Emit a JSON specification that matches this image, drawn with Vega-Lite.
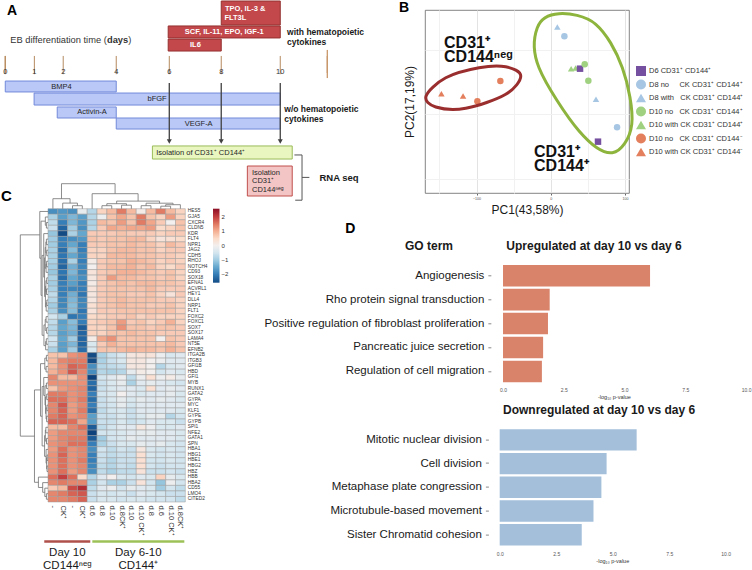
{
"$schema": "https://vega.github.io/schema/vega-lite/v6.json",
"padding": 0,
"background": "white",
"config": {"view": {"stroke": null}, "font": "Liberation Sans"},
"spacing": -118,
"resolve": {"scale": {"color": "independent", "shape": "independent", "fill": "independent", "stroke": "independent"}, "legend": {"color": "independent", "shape": "independent", "fill": "independent", "stroke": "independent"}},
"hconcat": [
{"vconcat": [
{
"width": 332.3, "height": 153,
"layer": [
{"data": {"values": [{"d": -0.06, "t": 4.58, "b": 6.0, "o": 1}, {"d": 11.78, "t": 4.58, "b": 6.0, "o": 2}, {"d": 11.78, "t": 4.08, "b": 6.42, "o": 3}, {"d": 12.18, "t": 5.25, "b": 5.25, "o": 4}]},
 "mark": {"type": "area", "fill": "#f9d3b0", "stroke": "#c8996b", "strokeWidth": 1, "orient": "vertical"},
 "encoding": {"x": {"field": "d", "type": "quantitative", "scale": {"domain": [1.511, 13.728], "nice": false, "zero": false}, "axis": null},
  "y": {"field": "t", "type": "quantitative", "scale": {"domain": [0.75, 13.5], "nice": false, "zero": false, "reverse": true}, "axis": null},
  "y2": {"field": "b"}, "order": {"field": "o"}}},
{"data": {"values": [{"k": "hema", "s": 7.88, "e": 10.05, "t": 0, "b": 2}, {"k": "hema", "s": 5.93, "e": 10.05, "t": 2.08, "b": 3.08}, {"k": "hema", "s": 5.93, "e": 7.88, "t": 3.17, "b": 4.17}, {"k": "gf", "s": -0.06, "e": 4.02, "t": 6.67, "b": 7.58}, {"k": "gf", "s": 1.0, "e": 10.05, "t": 7.67, "b": 8.67}, {"k": "gf", "s": 1.85, "e": 4.02, "t": 8.83, "b": 9.75}, {"k": "gf", "s": 4.02, "e": 10.05, "t": 9.75, "b": 10.67}, {"k": "iso", "s": 5.35, "e": 10.49, "t": 12.08, "b": 13.17}, {"k": "neg", "s": 8.84, "e": 10.49, "t": 13.75, "b": 16.25}]},
 "mark": {"type": "rect", "strokeWidth": 1},
 "encoding": {"x": {"field": "s", "type": "quantitative", "scale": {"domain": [1.511, 13.728], "nice": false, "zero": false}, "axis": null}, "x2": {"field": "e"},
  "y": {"field": "t", "type": "quantitative", "scale": {"domain": [0.75, 13.5], "nice": false, "zero": false, "reverse": true}, "axis": null}, "y2": {"field": "b"},
  "fill": {"field": "k", "type": "nominal", "scale": {"domain": ["hema", "gf", "iso", "neg"], "range": ["#c2484c", "#b9c8f6", "#e9f6c0", "#f3c5c4"]}, "legend": null},
  "stroke": {"field": "k", "type": "nominal", "scale": {"domain": ["hema", "gf", "iso", "neg"], "range": ["#94302f", "#7389da", "#9bbb59", "#c0504d"]}, "legend": null}}},
{"data": {"values": [{"lab": "0", "p": -0.06}, {"lab": "1", "p": 1.01}, {"lab": "2", "p": 2.07}, {"lab": "4", "p": 4.02}, {"lab": "6", "p": 5.97}, {"lab": "8", "p": 7.88}, {"lab": "10", "p": 10.05}]},
 "layer": [
  {"mark": {"type": "rule", "color": "#b58a5f", "strokeWidth": 1},
   "encoding": {"x": {"field": "p", "type": "quantitative", "scale": {"domain": [1.511, 13.728], "nice": false, "zero": false}, "axis": null},
    "y": {"datum": 4.58, "type": "quantitative", "scale": {"domain": [0.75, 13.5], "nice": false, "zero": false, "reverse": true}, "axis": null}, "y2": {"datum": 6.1}}},
  {"mark": {"type": "text", "fontSize": 7.5, "color": "#333", "baseline": "middle"},
   "encoding": {"x": {"field": "p", "type": "quantitative", "scale": {"domain": [1.511, 13.728], "nice": false, "zero": false}, "axis": null},
    "y": {"datum": 5.9, "type": "quantitative", "scale": {"domain": [0.75, 13.5], "nice": false, "zero": false, "reverse": true}, "axis": null}, "text": {"field": "lab"}}}
 ]},
{"data": {"values": [{"p": 5.97}, {"p": 7.88}, {"p": 10.05}]},
 "layer": [
  {"mark": {"type": "rule", "color": "#404040", "strokeWidth": 1.3},
   "encoding": {"x": {"field": "p", "type": "quantitative", "scale": {"domain": [1.511, 13.728], "nice": false, "zero": false}, "axis": null},
    "y": {"datum": 6.83, "type": "quantitative", "scale": {"domain": [0.75, 13.5], "nice": false, "zero": false, "reverse": true}, "axis": null}, "y2": {"datum": 11.6}}},
  {"mark": {"type": "point", "shape": "triangle-down", "filled": true, "color": "#404040", "size": 25, "opacity": 1},
   "encoding": {"x": {"field": "p", "type": "quantitative", "scale": {"domain": [1.511, 13.728], "nice": false, "zero": false}, "axis": null},
    "y": {"datum": 11.71, "type": "quantitative", "scale": {"domain": [0.75, 13.5], "nice": false, "zero": false, "reverse": true}, "axis": null}}}
 ]},
{"data": {"values": [{"x": 10.57, "x2": 10.85, "y": 12.83, "y2": 12.83}, {"x": 10.85, "x2": 10.85, "y": 12.83, "y2": 16.6}, {"x": 10.6, "x2": 10.85, "y": 16.6, "y2": 16.6}, {"x": 10.85, "x2": 11.12, "y": 14.7, "y2": 14.7}]},
 "mark": {"type": "rule", "color": "#555", "strokeWidth": 1},
 "encoding": {"x": {"field": "x", "type": "quantitative", "scale": {"domain": [1.511, 13.728], "nice": false, "zero": false}, "axis": null}, "x2": {"field": "x2"},
  "y": {"field": "y", "type": "quantitative", "scale": {"domain": [0.75, 13.5], "nice": false, "zero": false, "reverse": true}, "axis": null}, "y2": {"field": "y2"}}},
{"data": {"values": [{"t": "BMP4", "d": 2.01, "l": 7.17}, {"t": "bFGF", "d": 5.52, "l": 8.19}, {"t": "Activin-A", "d": 3.13, "l": 9.25}, {"t": "VEGF-A", "d": 7.05, "l": 10.22}]},
 "mark": {"type": "text", "fontSize": 7.5, "color": "#262626", "baseline": "middle", "align": "center"},
 "encoding": {"x": {"field": "d", "type": "quantitative", "scale": {"domain": [1.511, 13.728], "nice": false, "zero": false}, "axis": null},
  "y": {"field": "l", "type": "quantitative", "scale": {"domain": [0.75, 13.5], "nice": false, "zero": false, "reverse": true}, "axis": null}, "text": {"field": "t"}}},
{"data": {"values": [{"t": "TPO, IL-3 &", "d": 8.76, "l": 0.69}, {"t": "FLT3L", "d": 8.4, "l": 1.44}, {"t": "SCF, IL-11, EPO, IGF-1", "d": 7.99, "l": 2.56}, {"t": "IL6", "d": 6.93, "l": 3.63}]},
 "mark": {"type": "text", "fontSize": 7.5, "fontWeight": "bold", "color": "white", "baseline": "middle", "align": "center"},
 "encoding": {"x": {"field": "d", "type": "quantitative", "scale": {"domain": [1.511, 13.728], "nice": false, "zero": false}, "axis": null},
  "y": {"field": "l", "type": "quantitative", "scale": {"domain": [0.75, 13.5], "nice": false, "zero": false, "reverse": true}, "axis": null}, "text": {"field": "t"}}},
{"data": {"values": [{"t": "Isolation of CD31⁺ CD144⁺", "d": 5.49, "l": 12.64}, {"t": "Isolation", "d": 9.01, "l": 14.3}, {"t": "CD31⁺", "d": 9.01, "l": 15.0}, {"t": "CD144ⁿᵉᵍ", "d": 9.01, "l": 15.75}]},
 "mark": {"type": "text", "fontSize": 7.5, "color": "#262626", "baseline": "middle", "align": "left"},
 "encoding": {"x": {"field": "d", "type": "quantitative", "scale": {"domain": [1.511, 13.728], "nice": false, "zero": false}, "axis": null},
  "y": {"field": "l", "type": "quantitative", "scale": {"domain": [0.75, 13.5], "nice": false, "zero": false, "reverse": true}, "axis": null}, "text": {"field": "t"}}},
{"data": {"values": [{"t": "with hematopoietic", "d": 10.3, "l": 2.56}, {"t": "cytokines", "d": 10.3, "l": 3.42}, {"t": "w/o hematopoietic", "d": 10.2, "l": 9.03}, {"t": "cytokines", "d": 10.2, "l": 9.86}]},
 "mark": {"type": "text", "fontSize": 8.5, "fontWeight": "bold", "color": "#1a1a1a", "baseline": "middle", "align": "left"},
 "encoding": {"x": {"field": "d", "type": "quantitative", "scale": {"domain": [1.511, 13.728], "nice": false, "zero": false}, "axis": null},
  "y": {"field": "l", "type": "quantitative", "scale": {"domain": [0.75, 13.5], "nice": false, "zero": false, "reverse": true}, "axis": null}, "text": {"field": "t"}}},
{"data": {"values": [{"t": "RNA seq", "d": 11.49, "l": 14.75}]},
 "mark": {"type": "text", "fontSize": 9.5, "fontWeight": "bold", "color": "#1a1a1a", "baseline": "middle", "align": "left"},
 "encoding": {"x": {"field": "d", "type": "quantitative", "scale": {"domain": [1.511, 13.728], "nice": false, "zero": false}, "axis": null},
  "y": {"field": "l", "type": "quantitative", "scale": {"domain": [0.75, 13.5], "nice": false, "zero": false, "reverse": true}, "axis": null}, "text": {"field": "t"}}},
{"data": {"values": [{"t": "EB differentiation time (", "d": 0.125, "l": 3.25}, {"t": ")", "d": 4.46, "l": 3.25}]},
 "mark": {"type": "text", "fontSize": 9.3, "color": "#333", "baseline": "middle", "align": "left"},
 "encoding": {"x": {"field": "d", "type": "quantitative", "scale": {"domain": [1.511, 13.728], "nice": false, "zero": false}, "axis": null},
  "y": {"field": "l", "type": "quantitative", "scale": {"domain": [0.75, 13.5], "nice": false, "zero": false, "reverse": true}, "axis": null}, "text": {"field": "t"}}},
{"data": {"values": [{"t": "days", "d": 3.68, "l": 3.25}]},
 "mark": {"type": "text", "fontSize": 9.3, "fontWeight": "bold", "color": "#333", "baseline": "middle", "align": "left"},
 "encoding": {"x": {"field": "d", "type": "quantitative", "scale": {"domain": [1.511, 13.728], "nice": false, "zero": false}, "axis": null},
  "y": {"field": "l", "type": "quantitative", "scale": {"domain": [0.75, 13.5], "nice": false, "zero": false, "reverse": true}, "axis": null}, "text": {"field": "t"}}},
{"data": {"values": [{"t": "A", "d": 0.0, "l": 0.83}]},
 "mark": {"type": "text", "fontSize": 14, "fontWeight": "bold", "color": "#000", "baseline": "middle", "align": "left"},
 "encoding": {"x": {"field": "d", "type": "quantitative", "scale": {"domain": [1.511, 13.728], "nice": false, "zero": false}, "axis": null},
  "y": {"field": "l", "type": "quantitative", "scale": {"domain": [0.75, 13.5], "nice": false, "zero": false, "reverse": true}, "axis": null}, "text": {"field": "t"}}}
]
},
{
"width": 137.3, "height": 293.3,
"resolve": {"scale": {"x": "independent", "y": "independent"}},
"layer": [
{"data": {"values": [
{"g":"HES5","c":1,"v":-1.8},{"g":"HES5","c":2,"v":-1.7},{"g":"HES5","c":3,"v":-1.8},{"g":"HES5","c":4,"v":-0.2},{"g":"HES5","c":5,"v":-0.8},{"g":"HES5","c":6,"v":0.6},{"g":"HES5","c":7,"v":0.9},{"g":"HES5","c":8,"v":1.5},{"g":"HES5","c":9,"v":0.9},{"g":"HES5","c":10,"v":0.1},{"g":"HES5","c":11,"v":0.9},{"g":"HES5","c":12,"v":1.5},{"g":"HES5","c":13,"v":0.9},{"g":"HES5","c":14,"v":0.6},
{"g":"GJA5","c":1,"v":-0.9},{"g":"GJA5","c":2,"v":-1.6},{"g":"GJA5","c":3,"v":-1.3},{"g":"GJA5","c":4,"v":-1.6},{"g":"GJA5","c":5,"v":-0.8},{"g":"GJA5","c":6,"v":-0.1},{"g":"GJA5","c":7,"v":0.8},{"g":"GJA5","c":8,"v":1.1},{"g":"GJA5","c":9,"v":0.8},{"g":"GJA5","c":10,"v":1.5},{"g":"GJA5","c":11,"v":0.8},{"g":"GJA5","c":12,"v":0.6},{"g":"GJA5","c":13,"v":1.2},{"g":"GJA5","c":14,"v":0.6},
{"g":"CXCR4","c":1,"v":-0.7},{"g":"CXCR4","c":2,"v":-2.0},{"g":"CXCR4","c":3,"v":-1.3},{"g":"CXCR4","c":4,"v":-1.7},{"g":"CXCR4","c":5,"v":-0.9},{"g":"CXCR4","c":6,"v":0.9},{"g":"CXCR4","c":7,"v":0.8},{"g":"CXCR4","c":8,"v":1.2},{"g":"CXCR4","c":9,"v":0.8},{"g":"CXCR4","c":10,"v":1.5},{"g":"CXCR4","c":11,"v":1.1},{"g":"CXCR4","c":12,"v":0.7},{"g":"CXCR4","c":13,"v":0.0},{"g":"CXCR4","c":14,"v":0.8},
{"g":"CLDN5","c":1,"v":-0.6},{"g":"CLDN5","c":2,"v":-2.3},{"g":"CLDN5","c":3,"v":-1.0},{"g":"CLDN5","c":4,"v":-1.8},{"g":"CLDN5","c":5,"v":-0.8},{"g":"CLDN5","c":6,"v":0.7},{"g":"CLDN5","c":7,"v":1.1},{"g":"CLDN5","c":8,"v":1.0},{"g":"CLDN5","c":9,"v":1.1},{"g":"CLDN5","c":10,"v":1.1},{"g":"CLDN5","c":11,"v":1.2},{"g":"CLDN5","c":12,"v":0.5},{"g":"CLDN5","c":13,"v":0.6},{"g":"CLDN5","c":14,"v":0.8},
{"g":"KDR","c":1,"v":-1.1},{"g":"KDR","c":2,"v":-2.6},{"g":"KDR","c":3,"v":-0.9},{"g":"KDR","c":4,"v":-1.5},{"g":"KDR","c":5,"v":0.7},{"g":"KDR","c":6,"v":0.7},{"g":"KDR","c":7,"v":0.7},{"g":"KDR","c":8,"v":0.8},{"g":"KDR","c":9,"v":0.7},{"g":"KDR","c":10,"v":0.7},{"g":"KDR","c":11,"v":0.7},{"g":"KDR","c":12,"v":0.6},{"g":"KDR","c":13,"v":0.7},{"g":"KDR","c":14,"v":0.7},
{"g":"FLT4","c":1,"v":-1.0},{"g":"FLT4","c":2,"v":-2.0},{"g":"FLT4","c":3,"v":-1.8},{"g":"FLT4","c":4,"v":-1.7},{"g":"FLT4","c":5,"v":0.8},{"g":"FLT4","c":6,"v":0.7},{"g":"FLT4","c":7,"v":0.8},{"g":"FLT4","c":8,"v":0.8},{"g":"FLT4","c":9,"v":0.9},{"g":"FLT4","c":10,"v":0.9},{"g":"FLT4","c":11,"v":0.6},{"g":"FLT4","c":12,"v":0.3},{"g":"FLT4","c":13,"v":0.4},{"g":"FLT4","c":14,"v":0.5},
{"g":"NPR1","c":1,"v":-1.0},{"g":"NPR1","c":2,"v":-2.0},{"g":"NPR1","c":3,"v":-1.5},{"g":"NPR1","c":4,"v":-2.0},{"g":"NPR1","c":5,"v":0.7},{"g":"NPR1","c":6,"v":0.7},{"g":"NPR1","c":7,"v":0.8},{"g":"NPR1","c":8,"v":0.8},{"g":"NPR1","c":9,"v":0.9},{"g":"NPR1","c":10,"v":0.8},{"g":"NPR1","c":11,"v":0.8},{"g":"NPR1","c":12,"v":0.6},{"g":"NPR1","c":13,"v":0.9},{"g":"NPR1","c":14,"v":0.7},
{"g":"JAG2","c":1,"v":-0.9},{"g":"JAG2","c":2,"v":-2.2},{"g":"JAG2","c":3,"v":-1.2},{"g":"JAG2","c":4,"v":-2.0},{"g":"JAG2","c":5,"v":0.6},{"g":"JAG2","c":6,"v":0.6},{"g":"JAG2","c":7,"v":0.8},{"g":"JAG2","c":8,"v":0.9},{"g":"JAG2","c":9,"v":0.9},{"g":"JAG2","c":10,"v":0.8},{"g":"JAG2","c":11,"v":0.8},{"g":"JAG2","c":12,"v":0.6},{"g":"JAG2","c":13,"v":0.7},{"g":"JAG2","c":14,"v":0.7},
{"g":"CDH5","c":1,"v":-0.9},{"g":"CDH5","c":2,"v":-2.1},{"g":"CDH5","c":3,"v":-1.5},{"g":"CDH5","c":4,"v":-1.9},{"g":"CDH5","c":5,"v":0.6},{"g":"CDH5","c":6,"v":0.6},{"g":"CDH5","c":7,"v":0.9},{"g":"CDH5","c":8,"v":0.9},{"g":"CDH5","c":9,"v":0.9},{"g":"CDH5","c":10,"v":0.8},{"g":"CDH5","c":11,"v":0.8},{"g":"CDH5","c":12,"v":0.7},{"g":"CDH5","c":13,"v":0.7},{"g":"CDH5","c":14,"v":0.6},
{"g":"RHOJ","c":1,"v":-0.9},{"g":"RHOJ","c":2,"v":-2.2},{"g":"RHOJ","c":3,"v":-0.9},{"g":"RHOJ","c":4,"v":-2.0},{"g":"RHOJ","c":5,"v":0.1},{"g":"RHOJ","c":6,"v":0.7},{"g":"RHOJ","c":7,"v":0.8},{"g":"RHOJ","c":8,"v":0.8},{"g":"RHOJ","c":9,"v":1.0},{"g":"RHOJ","c":10,"v":0.9},{"g":"RHOJ","c":11,"v":0.8},{"g":"RHOJ","c":12,"v":0.6},{"g":"RHOJ","c":13,"v":0.7},{"g":"RHOJ","c":14,"v":0.6},
{"g":"NOTCH4","c":1,"v":-1.0},{"g":"NOTCH4","c":2,"v":-2.3},{"g":"NOTCH4","c":3,"v":-1.4},{"g":"NOTCH4","c":4,"v":-1.9},{"g":"NOTCH4","c":5,"v":0.0},{"g":"NOTCH4","c":6,"v":0.7},{"g":"NOTCH4","c":7,"v":0.9},{"g":"NOTCH4","c":8,"v":0.9},{"g":"NOTCH4","c":9,"v":1.0},{"g":"NOTCH4","c":10,"v":0.8},{"g":"NOTCH4","c":11,"v":0.9},{"g":"NOTCH4","c":12,"v":0.6},{"g":"NOTCH4","c":13,"v":0.5},{"g":"NOTCH4","c":14,"v":0.7},
{"g":"CD93","c":1,"v":-1.1},{"g":"CD93","c":2,"v":-2.1},{"g":"CD93","c":3,"v":-1.3},{"g":"CD93","c":4,"v":-1.9},{"g":"CD93","c":5,"v":0.3},{"g":"CD93","c":6,"v":0.7},{"g":"CD93","c":7,"v":0.8},{"g":"CD93","c":8,"v":1.0},{"g":"CD93","c":9,"v":1.0},{"g":"CD93","c":10,"v":0.9},{"g":"CD93","c":11,"v":0.8},{"g":"CD93","c":12,"v":0.7},{"g":"CD93","c":13,"v":0.8},{"g":"CD93","c":14,"v":0.6},
{"g":"SOX18","c":1,"v":-0.9},{"g":"SOX18","c":2,"v":-2.2},{"g":"SOX18","c":3,"v":-1.5},{"g":"SOX18","c":4,"v":-1.8},{"g":"SOX18","c":5,"v":0.2},{"g":"SOX18","c":6,"v":0.7},{"g":"SOX18","c":7,"v":1.2},{"g":"SOX18","c":8,"v":0.9},{"g":"SOX18","c":9,"v":0.9},{"g":"SOX18","c":10,"v":0.8},{"g":"SOX18","c":11,"v":0.8},{"g":"SOX18","c":12,"v":0.7},{"g":"SOX18","c":13,"v":0.8},{"g":"SOX18","c":14,"v":0.6},
{"g":"EFNA1","c":1,"v":-1.0},{"g":"EFNA1","c":2,"v":-2.0},{"g":"EFNA1","c":3,"v":-1.6},{"g":"EFNA1","c":4,"v":-2.0},{"g":"EFNA1","c":5,"v":0.1},{"g":"EFNA1","c":6,"v":0.7},{"g":"EFNA1","c":7,"v":0.8},{"g":"EFNA1","c":8,"v":0.9},{"g":"EFNA1","c":9,"v":0.8},{"g":"EFNA1","c":10,"v":0.9},{"g":"EFNA1","c":11,"v":0.9},{"g":"EFNA1","c":12,"v":0.8},{"g":"EFNA1","c":13,"v":0.8},{"g":"EFNA1","c":14,"v":0.7},
{"g":"ACVRL1","c":1,"v":-0.9},{"g":"ACVRL1","c":2,"v":-2.0},{"g":"ACVRL1","c":3,"v":-1.9},{"g":"ACVRL1","c":4,"v":-2.0},{"g":"ACVRL1","c":5,"v":0.3},{"g":"ACVRL1","c":6,"v":0.7},{"g":"ACVRL1","c":7,"v":0.8},{"g":"ACVRL1","c":8,"v":0.8},{"g":"ACVRL1","c":9,"v":0.8},{"g":"ACVRL1","c":10,"v":0.8},{"g":"ACVRL1","c":11,"v":0.9},{"g":"ACVRL1","c":12,"v":0.7},{"g":"ACVRL1","c":13,"v":0.7},{"g":"ACVRL1","c":14,"v":0.7},
{"g":"HEY1","c":1,"v":-0.7},{"g":"HEY1","c":2,"v":-2.0},{"g":"HEY1","c":3,"v":-1.4},{"g":"HEY1","c":4,"v":-2.1},{"g":"HEY1","c":5,"v":0.2},{"g":"HEY1","c":6,"v":0.7},{"g":"HEY1","c":7,"v":0.8},{"g":"HEY1","c":8,"v":0.8},{"g":"HEY1","c":9,"v":0.7},{"g":"HEY1","c":10,"v":0.7},{"g":"HEY1","c":11,"v":0.8},{"g":"HEY1","c":12,"v":0.6},{"g":"HEY1","c":13,"v":0.3},{"g":"HEY1","c":14,"v":0.7},
{"g":"DLL4","c":1,"v":-0.8},{"g":"DLL4","c":2,"v":-1.9},{"g":"DLL4","c":3,"v":-1.3},{"g":"DLL4","c":4,"v":-1.9},{"g":"DLL4","c":5,"v":0.2},{"g":"DLL4","c":6,"v":0.7},{"g":"DLL4","c":7,"v":0.8},{"g":"DLL4","c":8,"v":0.9},{"g":"DLL4","c":9,"v":0.8},{"g":"DLL4","c":10,"v":0.8},{"g":"DLL4","c":11,"v":0.8},{"g":"DLL4","c":12,"v":0.7},{"g":"DLL4","c":13,"v":0.7},{"g":"DLL4","c":14,"v":0.6},
{"g":"NRP1","c":1,"v":-1.0},{"g":"NRP1","c":2,"v":-1.9},{"g":"NRP1","c":3,"v":-1.2},{"g":"NRP1","c":4,"v":-1.9},{"g":"NRP1","c":5,"v":0.4},{"g":"NRP1","c":6,"v":0.7},{"g":"NRP1","c":7,"v":0.8},{"g":"NRP1","c":8,"v":0.9},{"g":"NRP1","c":9,"v":0.8},{"g":"NRP1","c":10,"v":0.8},{"g":"NRP1","c":11,"v":0.7},{"g":"NRP1","c":12,"v":0.7},{"g":"NRP1","c":13,"v":0.8},{"g":"NRP1","c":14,"v":0.6},
{"g":"FLT1","c":1,"v":-0.9},{"g":"FLT1","c":2,"v":-1.8},{"g":"FLT1","c":3,"v":-1.2},{"g":"FLT1","c":4,"v":-2.1},{"g":"FLT1","c":5,"v":0.3},{"g":"FLT1","c":6,"v":0.7},{"g":"FLT1","c":7,"v":0.7},{"g":"FLT1","c":8,"v":0.8},{"g":"FLT1","c":9,"v":0.8},{"g":"FLT1","c":10,"v":0.8},{"g":"FLT1","c":11,"v":0.8},{"g":"FLT1","c":12,"v":0.8},{"g":"FLT1","c":13,"v":0.8},{"g":"FLT1","c":14,"v":0.6},
{"g":"FOXC2","c":1,"v":-0.5},{"g":"FOXC2","c":2,"v":-0.9},{"g":"FOXC2","c":3,"v":-2.1},{"g":"FOXC2","c":4,"v":-2.0},{"g":"FOXC2","c":5,"v":0.5},{"g":"FOXC2","c":6,"v":0.6},{"g":"FOXC2","c":7,"v":0.7},{"g":"FOXC2","c":8,"v":0.7},{"g":"FOXC2","c":9,"v":0.8},{"g":"FOXC2","c":10,"v":0.6},{"g":"FOXC2","c":11,"v":0.7},{"g":"FOXC2","c":12,"v":0.6},{"g":"FOXC2","c":13,"v":0.6},{"g":"FOXC2","c":14,"v":0.6},
{"g":"FOXC1","c":1,"v":-0.7},{"g":"FOXC1","c":2,"v":-1.6},{"g":"FOXC1","c":3,"v":-1.2},{"g":"FOXC1","c":4,"v":-2.0},{"g":"FOXC1","c":5,"v":0.6},{"g":"FOXC1","c":6,"v":0.7},{"g":"FOXC1","c":7,"v":0.8},{"g":"FOXC1","c":8,"v":1.2},{"g":"FOXC1","c":9,"v":0.7},{"g":"FOXC1","c":10,"v":0.8},{"g":"FOXC1","c":11,"v":0.6},{"g":"FOXC1","c":12,"v":0.7},{"g":"FOXC1","c":13,"v":1.0},{"g":"FOXC1","c":14,"v":0.6},
{"g":"SOX7","c":1,"v":-0.8},{"g":"SOX7","c":2,"v":-1.5},{"g":"SOX7","c":3,"v":-1.3},{"g":"SOX7","c":4,"v":-2.4},{"g":"SOX7","c":5,"v":0.6},{"g":"SOX7","c":6,"v":0.6},{"g":"SOX7","c":7,"v":0.8},{"g":"SOX7","c":8,"v":1.3},{"g":"SOX7","c":9,"v":0.8},{"g":"SOX7","c":10,"v":0.8},{"g":"SOX7","c":11,"v":0.7},{"g":"SOX7","c":12,"v":0.8},{"g":"SOX7","c":13,"v":0.8},{"g":"SOX7","c":14,"v":0.7},
{"g":"SOX17","c":1,"v":-0.8},{"g":"SOX17","c":2,"v":-1.6},{"g":"SOX17","c":3,"v":-1.4},{"g":"SOX17","c":4,"v":-2.3},{"g":"SOX17","c":5,"v":0.6},{"g":"SOX17","c":6,"v":0.6},{"g":"SOX17","c":7,"v":0.8},{"g":"SOX17","c":8,"v":0.8},{"g":"SOX17","c":9,"v":0.9},{"g":"SOX17","c":10,"v":0.8},{"g":"SOX17","c":11,"v":0.8},{"g":"SOX17","c":12,"v":0.7},{"g":"SOX17","c":13,"v":0.7},{"g":"SOX17","c":14,"v":0.7},
{"g":"LAMA4","c":1,"v":-0.5},{"g":"LAMA4","c":2,"v":-1.5},{"g":"LAMA4","c":3,"v":-1.0},{"g":"LAMA4","c":4,"v":-2.3},{"g":"LAMA4","c":5,"v":0.1},{"g":"LAMA4","c":6,"v":1.1},{"g":"LAMA4","c":7,"v":1.3},{"g":"LAMA4","c":8,"v":0.8},{"g":"LAMA4","c":9,"v":0.8},{"g":"LAMA4","c":10,"v":0.8},{"g":"LAMA4","c":11,"v":0.8},{"g":"LAMA4","c":12,"v":0.0},{"g":"LAMA4","c":13,"v":0.8},{"g":"LAMA4","c":14,"v":0.7},
{"g":"NT5E","c":1,"v":-0.6},{"g":"NT5E","c":2,"v":-1.6},{"g":"NT5E","c":3,"v":-1.3},{"g":"NT5E","c":4,"v":-2.3},{"g":"NT5E","c":5,"v":-0.4},{"g":"NT5E","c":6,"v":0.7},{"g":"NT5E","c":7,"v":1.0},{"g":"NT5E","c":8,"v":0.8},{"g":"NT5E","c":9,"v":0.8},{"g":"NT5E","c":10,"v":0.8},{"g":"NT5E","c":11,"v":0.8},{"g":"NT5E","c":12,"v":0.8},{"g":"NT5E","c":13,"v":0.9},{"g":"NT5E","c":14,"v":0.7},
{"g":"EFNB2","c":1,"v":-0.9},{"g":"EFNB2","c":2,"v":-1.6},{"g":"EFNB2","c":3,"v":-1.0},{"g":"EFNB2","c":4,"v":-2.2},{"g":"EFNB2","c":5,"v":-0.4},{"g":"EFNB2","c":6,"v":0.8},{"g":"EFNB2","c":7,"v":0.8},{"g":"EFNB2","c":8,"v":0.9},{"g":"EFNB2","c":9,"v":1.0},{"g":"EFNB2","c":10,"v":0.9},{"g":"EFNB2","c":11,"v":0.9},{"g":"EFNB2","c":12,"v":0.8},{"g":"EFNB2","c":13,"v":1.0},{"g":"EFNB2","c":14,"v":0.8},
{"g":"ITGA2B","c":1,"v":0.8},{"g":"ITGA2B","c":2,"v":0.8},{"g":"ITGA2B","c":3,"v":1.3},{"g":"ITGA2B","c":4,"v":1.4},{"g":"ITGA2B","c":5,"v":-2.6},{"g":"ITGA2B","c":6,"v":-0.9},{"g":"ITGA2B","c":7,"v":-0.6},{"g":"ITGA2B","c":8,"v":-0.4},{"g":"ITGA2B","c":9,"v":0.2},{"g":"ITGA2B","c":10,"v":0.3},{"g":"ITGA2B","c":11,"v":0.3},{"g":"ITGA2B","c":12,"v":-0.1},{"g":"ITGA2B","c":13,"v":-0.4},{"g":"ITGA2B","c":14,"v":-0.3},
{"g":"ITGB3","c":1,"v":0.9},{"g":"ITGB3","c":2,"v":1.4},{"g":"ITGB3","c":3,"v":1.5},{"g":"ITGB3","c":4,"v":1.5},{"g":"ITGB3","c":5,"v":-2.6},{"g":"ITGB3","c":6,"v":-0.9},{"g":"ITGB3","c":7,"v":-0.6},{"g":"ITGB3","c":8,"v":-0.4},{"g":"ITGB3","c":9,"v":0.2},{"g":"ITGB3","c":10,"v":0.2},{"g":"ITGB3","c":11,"v":0.0},{"g":"ITGB3","c":12,"v":-0.1},{"g":"ITGB3","c":13,"v":-0.3},{"g":"ITGB3","c":14,"v":-0.3},
{"g":"GFI1B","c":1,"v":0.9},{"g":"GFI1B","c":2,"v":1.3},{"g":"GFI1B","c":3,"v":1.7},{"g":"GFI1B","c":4,"v":1.6},{"g":"GFI1B","c":5,"v":-1.8},{"g":"GFI1B","c":6,"v":-0.8},{"g":"GFI1B","c":7,"v":-0.7},{"g":"GFI1B","c":8,"v":-0.6},{"g":"GFI1B","c":9,"v":0.2},{"g":"GFI1B","c":10,"v":0.2},{"g":"GFI1B","c":11,"v":0.0},{"g":"GFI1B","c":12,"v":-0.8},{"g":"GFI1B","c":13,"v":-0.4},{"g":"GFI1B","c":14,"v":-0.3},
{"g":"HBD","c":1,"v":1.0},{"g":"HBD","c":2,"v":1.3},{"g":"HBD","c":3,"v":1.8},{"g":"HBD","c":4,"v":1.4},{"g":"HBD","c":5,"v":-1.8},{"g":"HBD","c":6,"v":-0.8},{"g":"HBD","c":7,"v":-0.9},{"g":"HBD","c":8,"v":-0.8},{"g":"HBD","c":9,"v":-0.2},{"g":"HBD","c":10,"v":0.1},{"g":"HBD","c":11,"v":0.0},{"g":"HBD","c":12,"v":-0.5},{"g":"HBD","c":13,"v":-0.3},{"g":"HBD","c":14,"v":-0.4},
{"g":"GFI1","c":1,"v":1.4},{"g":"GFI1","c":2,"v":0.9},{"g":"GFI1","c":3,"v":0.9},{"g":"GFI1","c":4,"v":1.3},{"g":"GFI1","c":5,"v":-2.7},{"g":"GFI1","c":6,"v":-0.5},{"g":"GFI1","c":7,"v":-0.3},{"g":"GFI1","c":8,"v":-0.1},{"g":"GFI1","c":9,"v":-0.7},{"g":"GFI1","c":10,"v":-0.1},{"g":"GFI1","c":11,"v":0.4},{"g":"GFI1","c":12,"v":-0.1},{"g":"GFI1","c":13,"v":0.1},{"g":"GFI1","c":14,"v":-0.2},
{"g":"MYB","c":1,"v":1.3},{"g":"MYB","c":2,"v":1.3},{"g":"MYB","c":3,"v":1.3},{"g":"MYB","c":4,"v":1.3},{"g":"MYB","c":5,"v":-2.2},{"g":"MYB","c":6,"v":-0.6},{"g":"MYB","c":7,"v":-0.4},{"g":"MYB","c":8,"v":-0.2},{"g":"MYB","c":9,"v":-0.9},{"g":"MYB","c":10,"v":-0.3},{"g":"MYB","c":11,"v":-0.2},{"g":"MYB","c":12,"v":-0.3},{"g":"MYB","c":13,"v":-0.4},{"g":"MYB","c":14,"v":-0.5},
{"g":"RUNX1","c":1,"v":0.8},{"g":"RUNX1","c":2,"v":1.2},{"g":"RUNX1","c":3,"v":1.3},{"g":"RUNX1","c":4,"v":1.4},{"g":"RUNX1","c":5,"v":-2.3},{"g":"RUNX1","c":6,"v":-0.6},{"g":"RUNX1","c":7,"v":-0.4},{"g":"RUNX1","c":8,"v":-0.3},{"g":"RUNX1","c":9,"v":-0.3},{"g":"RUNX1","c":10,"v":-0.4},{"g":"RUNX1","c":11,"v":0.4},{"g":"RUNX1","c":12,"v":-0.3},{"g":"RUNX1","c":13,"v":-0.2},{"g":"RUNX1","c":14,"v":-0.3},
{"g":"GATA2","c":1,"v":1.5},{"g":"GATA2","c":2,"v":1.5},{"g":"GATA2","c":3,"v":1.3},{"g":"GATA2","c":4,"v":1.4},{"g":"GATA2","c":5,"v":-2.0},{"g":"GATA2","c":6,"v":-0.5},{"g":"GATA2","c":7,"v":-0.4},{"g":"GATA2","c":8,"v":0.0},{"g":"GATA2","c":9,"v":-0.3},{"g":"GATA2","c":10,"v":-0.4},{"g":"GATA2","c":11,"v":-0.3},{"g":"GATA2","c":12,"v":-0.3},{"g":"GATA2","c":13,"v":-0.2},{"g":"GATA2","c":14,"v":-0.4},
{"g":"GYPA","c":1,"v":1.6},{"g":"GYPA","c":2,"v":1.6},{"g":"GYPA","c":3,"v":1.3},{"g":"GYPA","c":4,"v":1.5},{"g":"GYPA","c":5,"v":-2.2},{"g":"GYPA","c":6,"v":-0.6},{"g":"GYPA","c":7,"v":-0.4},{"g":"GYPA","c":8,"v":-0.2},{"g":"GYPA","c":9,"v":-0.4},{"g":"GYPA","c":10,"v":-0.2},{"g":"GYPA","c":11,"v":-0.3},{"g":"GYPA","c":12,"v":-0.2},{"g":"GYPA","c":13,"v":-0.3},{"g":"GYPA","c":14,"v":-0.4},
{"g":"MYC","c":1,"v":1.4},{"g":"MYC","c":2,"v":1.8},{"g":"MYC","c":3,"v":1.2},{"g":"MYC","c":4,"v":1.4},{"g":"MYC","c":5,"v":-2.0},{"g":"MYC","c":6,"v":-0.6},{"g":"MYC","c":7,"v":-0.5},{"g":"MYC","c":8,"v":-0.2},{"g":"MYC","c":9,"v":-0.5},{"g":"MYC","c":10,"v":-0.3},{"g":"MYC","c":11,"v":-0.3},{"g":"MYC","c":12,"v":-0.3},{"g":"MYC","c":13,"v":-0.3},{"g":"MYC","c":14,"v":-0.3},
{"g":"KLF1","c":1,"v":1.4},{"g":"KLF1","c":2,"v":1.7},{"g":"KLF1","c":3,"v":1.2},{"g":"KLF1","c":4,"v":1.5},{"g":"KLF1","c":5,"v":-2.2},{"g":"KLF1","c":6,"v":-0.7},{"g":"KLF1","c":7,"v":-0.5},{"g":"KLF1","c":8,"v":-0.4},{"g":"KLF1","c":9,"v":-0.6},{"g":"KLF1","c":10,"v":-0.3},{"g":"KLF1","c":11,"v":-0.3},{"g":"KLF1","c":12,"v":-0.3},{"g":"KLF1","c":13,"v":-0.3},{"g":"KLF1","c":14,"v":-0.4},
{"g":"GYPE","c":1,"v":1.5},{"g":"GYPE","c":2,"v":1.7},{"g":"GYPE","c":3,"v":1.3},{"g":"GYPE","c":4,"v":1.4},{"g":"GYPE","c":5,"v":-1.6},{"g":"GYPE","c":6,"v":-0.6},{"g":"GYPE","c":7,"v":-0.6},{"g":"GYPE","c":8,"v":-0.4},{"g":"GYPE","c":9,"v":-0.6},{"g":"GYPE","c":10,"v":-0.4},{"g":"GYPE","c":11,"v":-0.2},{"g":"GYPE","c":12,"v":-0.2},{"g":"GYPE","c":13,"v":-0.8},{"g":"GYPE","c":14,"v":-0.5},
{"g":"GYPB","c":1,"v":1.7},{"g":"GYPB","c":2,"v":1.7},{"g":"GYPB","c":3,"v":1.6},{"g":"GYPB","c":4,"v":1.1},{"g":"GYPB","c":5,"v":-1.6},{"g":"GYPB","c":6,"v":-0.6},{"g":"GYPB","c":7,"v":-0.6},{"g":"GYPB","c":8,"v":-0.4},{"g":"GYPB","c":9,"v":-0.6},{"g":"GYPB","c":10,"v":-0.5},{"g":"GYPB","c":11,"v":-0.3},{"g":"GYPB","c":12,"v":-0.4},{"g":"GYPB","c":13,"v":-0.4},{"g":"GYPB","c":14,"v":-0.6},
{"g":"SPI1","c":1,"v":0.9},{"g":"SPI1","c":2,"v":0.9},{"g":"SPI1","c":3,"v":1.4},{"g":"SPI1","c":4,"v":1.6},{"g":"SPI1","c":5,"v":-2.4},{"g":"SPI1","c":6,"v":-0.7},{"g":"SPI1","c":7,"v":-0.5},{"g":"SPI1","c":8,"v":-0.3},{"g":"SPI1","c":9,"v":-0.3},{"g":"SPI1","c":10,"v":0.2},{"g":"SPI1","c":11,"v":-0.1},{"g":"SPI1","c":12,"v":-0.4},{"g":"SPI1","c":13,"v":-0.4},{"g":"SPI1","c":14,"v":-0.3},
{"g":"NFE2","c":1,"v":1.2},{"g":"NFE2","c":2,"v":1.4},{"g":"NFE2","c":3,"v":1.4},{"g":"NFE2","c":4,"v":1.4},{"g":"NFE2","c":5,"v":-2.7},{"g":"NFE2","c":6,"v":-0.5},{"g":"NFE2","c":7,"v":-0.5},{"g":"NFE2","c":8,"v":-0.4},{"g":"NFE2","c":9,"v":-0.3},{"g":"NFE2","c":10,"v":-0.2},{"g":"NFE2","c":11,"v":-0.2},{"g":"NFE2","c":12,"v":-0.3},{"g":"NFE2","c":13,"v":-0.3},{"g":"NFE2","c":14,"v":-0.4},
{"g":"GATA1","c":1,"v":1.2},{"g":"GATA1","c":2,"v":1.4},{"g":"GATA1","c":3,"v":1.5},{"g":"GATA1","c":4,"v":1.5},{"g":"GATA1","c":5,"v":-2.4},{"g":"GATA1","c":6,"v":-1.0},{"g":"GATA1","c":7,"v":-0.5},{"g":"GATA1","c":8,"v":-0.4},{"g":"GATA1","c":9,"v":-0.2},{"g":"GATA1","c":10,"v":-0.3},{"g":"GATA1","c":11,"v":-0.3},{"g":"GATA1","c":12,"v":-0.3},{"g":"GATA1","c":13,"v":-0.3},{"g":"GATA1","c":14,"v":-0.4},
{"g":"SPN","c":1,"v":1.3},{"g":"SPN","c":2,"v":1.4},{"g":"SPN","c":3,"v":1.6},{"g":"SPN","c":4,"v":1.6},{"g":"SPN","c":5,"v":-2.0},{"g":"SPN","c":6,"v":-0.9},{"g":"SPN","c":7,"v":-0.6},{"g":"SPN","c":8,"v":-0.4},{"g":"SPN","c":9,"v":-0.4},{"g":"SPN","c":10,"v":-0.2},{"g":"SPN","c":11,"v":-0.3},{"g":"SPN","c":12,"v":-0.2},{"g":"SPN","c":13,"v":-0.4},{"g":"SPN","c":14,"v":-0.5},
{"g":"HBA1","c":1,"v":1.2},{"g":"HBA1","c":2,"v":1.6},{"g":"HBA1","c":3,"v":1.3},{"g":"HBA1","c":4,"v":1.4},{"g":"HBA1","c":5,"v":-1.8},{"g":"HBA1","c":6,"v":-0.5},{"g":"HBA1","c":7,"v":-0.7},{"g":"HBA1","c":8,"v":-0.5},{"g":"HBA1","c":9,"v":-0.6},{"g":"HBA1","c":10,"v":0.2},{"g":"HBA1","c":11,"v":-0.4},{"g":"HBA1","c":12,"v":-0.5},{"g":"HBA1","c":13,"v":-0.4},{"g":"HBA1","c":14,"v":-0.5},
{"g":"HBG1","c":1,"v":1.3},{"g":"HBG1","c":2,"v":1.7},{"g":"HBG1","c":3,"v":1.3},{"g":"HBG1","c":4,"v":1.4},{"g":"HBG1","c":5,"v":-2.0},{"g":"HBG1","c":6,"v":-0.6},{"g":"HBG1","c":7,"v":-0.7},{"g":"HBG1","c":8,"v":-0.6},{"g":"HBG1","c":9,"v":-0.6},{"g":"HBG1","c":10,"v":0.4},{"g":"HBG1","c":11,"v":-0.4},{"g":"HBG1","c":12,"v":-0.5},{"g":"HBG1","c":13,"v":-0.4},{"g":"HBG1","c":14,"v":-0.5},
{"g":"HBE1","c":1,"v":1.3},{"g":"HBE1","c":2,"v":1.6},{"g":"HBE1","c":3,"v":1.3},{"g":"HBE1","c":4,"v":1.5},{"g":"HBE1","c":5,"v":-2.0},{"g":"HBE1","c":6,"v":-0.6},{"g":"HBE1","c":7,"v":-0.8},{"g":"HBE1","c":8,"v":-0.6},{"g":"HBE1","c":9,"v":-0.6},{"g":"HBE1","c":10,"v":0.4},{"g":"HBE1","c":11,"v":-0.5},{"g":"HBE1","c":12,"v":-0.5},{"g":"HBE1","c":13,"v":-0.4},{"g":"HBE1","c":14,"v":-0.5},
{"g":"HBG2","c":1,"v":1.3},{"g":"HBG2","c":2,"v":1.6},{"g":"HBG2","c":3,"v":1.3},{"g":"HBG2","c":4,"v":1.4},{"g":"HBG2","c":5,"v":-1.9},{"g":"HBG2","c":6,"v":-0.7},{"g":"HBG2","c":7,"v":-0.8},{"g":"HBG2","c":8,"v":-0.6},{"g":"HBG2","c":9,"v":-0.7},{"g":"HBG2","c":10,"v":0.4},{"g":"HBG2","c":11,"v":-0.5},{"g":"HBG2","c":12,"v":-0.6},{"g":"HBG2","c":13,"v":-0.5},{"g":"HBG2","c":14,"v":-0.5},
{"g":"HBZ","c":1,"v":1.3},{"g":"HBZ","c":2,"v":1.6},{"g":"HBZ","c":3,"v":1.2},{"g":"HBZ","c":4,"v":1.4},{"g":"HBZ","c":5,"v":-1.8},{"g":"HBZ","c":6,"v":-0.7},{"g":"HBZ","c":7,"v":-0.9},{"g":"HBZ","c":8,"v":-0.7},{"g":"HBZ","c":9,"v":-0.7},{"g":"HBZ","c":10,"v":0.3},{"g":"HBZ","c":11,"v":-0.6},{"g":"HBZ","c":12,"v":-0.6},{"g":"HBZ","c":13,"v":-0.5},{"g":"HBZ","c":14,"v":-0.6},
{"g":"HBB","c":1,"v":1.6},{"g":"HBB","c":2,"v":2.0},{"g":"HBB","c":3,"v":1.6},{"g":"HBB","c":4,"v":0.5},{"g":"HBB","c":5,"v":-0.8},{"g":"HBB","c":6,"v":-0.3},{"g":"HBB","c":7,"v":0.0},{"g":"HBB","c":8,"v":-0.4},{"g":"HBB","c":9,"v":-0.5},{"g":"HBB","c":10,"v":-0.3},{"g":"HBB","c":11,"v":-0.4},{"g":"HBB","c":12,"v":0.6},{"g":"HBB","c":13,"v":-0.2},{"g":"HBB","c":14,"v":-0.4},
{"g":"HBA2","c":1,"v":1.4},{"g":"HBA2","c":2,"v":1.5},{"g":"HBA2","c":3,"v":1.4},{"g":"HBA2","c":4,"v":1.4},{"g":"HBA2","c":5,"v":-0.9},{"g":"HBA2","c":6,"v":-0.5},{"g":"HBA2","c":7,"v":-0.9},{"g":"HBA2","c":8,"v":-0.9},{"g":"HBA2","c":9,"v":-0.6},{"g":"HBA2","c":10,"v":0.3},{"g":"HBA2","c":11,"v":-0.5},{"g":"HBA2","c":12,"v":-1.1},{"g":"HBA2","c":13,"v":-0.1},{"g":"HBA2","c":14,"v":-0.5},
{"g":"CD55","c":1,"v":0.7},{"g":"CD55","c":2,"v":0.9},{"g":"CD55","c":3,"v":1.9},{"g":"CD55","c":4,"v":2.2},{"g":"CD55","c":5,"v":-0.7},{"g":"CD55","c":6,"v":-0.3},{"g":"CD55","c":7,"v":-0.1},{"g":"CD55","c":8,"v":-0.5},{"g":"CD55","c":9,"v":-0.2},{"g":"CD55","c":10,"v":-0.3},{"g":"CD55","c":11,"v":-0.4},{"g":"CD55","c":12,"v":-1.0},{"g":"CD55","c":13,"v":-0.5},{"g":"CD55","c":14,"v":-0.7},
{"g":"LMO4","c":1,"v":1.4},{"g":"LMO4","c":2,"v":1.5},{"g":"LMO4","c":3,"v":1.7},{"g":"LMO4","c":4,"v":1.8},{"g":"LMO4","c":5,"v":-0.6},{"g":"LMO4","c":6,"v":-0.4},{"g":"LMO4","c":7,"v":-0.5},{"g":"LMO4","c":8,"v":-0.4},{"g":"LMO4","c":9,"v":-0.6},{"g":"LMO4","c":10,"v":-0.3},{"g":"LMO4","c":11,"v":-0.4},{"g":"LMO4","c":12,"v":-0.5},{"g":"LMO4","c":13,"v":-0.6},{"g":"LMO4","c":14,"v":-0.6},
{"g":"CITED2","c":1,"v":1.4},{"g":"CITED2","c":2,"v":1.4},{"g":"CITED2","c":3,"v":1.5},{"g":"CITED2","c":4,"v":1.7},{"g":"CITED2","c":5,"v":-0.6},{"g":"CITED2","c":6,"v":-0.4},{"g":"CITED2","c":7,"v":-0.4},{"g":"CITED2","c":8,"v":-0.5},{"g":"CITED2","c":9,"v":-0.4},{"g":"CITED2","c":10,"v":-0.4},{"g":"CITED2","c":11,"v":-0.5},{"g":"CITED2","c":12,"v":-0.5},{"g":"CITED2","c":13,"v":-0.5},{"g":"CITED2","c":14,"v":-0.7}
]},
 "mark": {"type": "rect", "stroke": "#9a9a9a", "strokeWidth": 0.5},
 "encoding": {
  "x": {"field": "c", "type": "ordinal", "scale": {"paddingInner": 0, "paddingOuter": 0},
   "axis": {"orient": "bottom", "labelExpr": "['-','CK⁺','-','CK⁺','d.6','d.8','d.10','d.8CK⁺','d.10','d.10 CK⁺','d.8','d.6','d.10 CK⁺','d.8CK⁺'][datum.value-1]", "labelAngle": 90, "labelAlign": "left", "labelBaseline": "middle", "labelFontSize": 7.5, "labelColor": "#333", "ticks": false, "domain": false, "labelPadding": 3, "title": null}},
  "y": {"field": "g", "type": "nominal", "sort": ["HES5","GJA5","CXCR4","CLDN5","KDR","FLT4","NPR1","JAG2","CDH5","RHOJ","NOTCH4","CD93","SOX18","EFNA1","ACVRL1","HEY1","DLL4","NRP1","FLT1","FOXC2","FOXC1","SOX7","SOX17","LAMA4","NT5E","EFNB2","ITGA2B","ITGB3","GFI1B","HBD","GFI1","MYB","RUNX1","GATA2","GYPA","MYC","KLF1","GYPE","GYPB","SPI1","NFE2","GATA1","SPN","HBA1","HBG1","HBE1","HBG2","HBZ","HBB","HBA2","CD55","LMO4","CITED2"],
   "scale": {"paddingInner": 0, "paddingOuter": 0},
   "axis": {"orient": "right", "labelFontSize": 4.8, "ticks": false, "domain": false, "labelPadding": 2, "title": null, "labelColor": "#333"}},
  "fill": {"field": "v", "type": "quantitative", "scale": {"scheme": "redblue", "reverse": true, "domain": [-2.6, 2.6]},
   "legend": {"title": null, "gradientLength": 74, "gradientThickness": 6.5, "values": [-2, -1, 0, 1, 2], "labelFontSize": 6, "offset": 5, "labelColor": "#333", "gradientStrokeWidth": 0}}
 }},
{"data": {"values": [
 {"a": 3, "b": 4, "h": 3, "ha": 0, "hb": 0},
 {"a": 2, "b": 3.5, "h": 5.6, "ha": 0, "hb": 3},
 {"a": 1, "b": 2.75, "h": 10, "ha": 0, "hb": 5.6},
 {"a": 6, "b": 7, "h": 3, "ha": 0, "hb": 0},
 {"a": 8, "b": 9, "h": 3.5, "ha": 0, "hb": 0},
 {"a": 6.5, "b": 8.5, "h": 5, "ha": 3, "hb": 3.5},
 {"a": 10, "b": 11, "h": 3, "ha": 0, "hb": 0},
 {"a": 12, "b": 13, "h": 2.5, "ha": 0, "hb": 0},
 {"a": 12.5, "b": 14, "h": 4, "ha": 2.5, "hb": 0},
 {"a": 10.5, "b": 13.25, "h": 5.5, "ha": 3, "hb": 4},
 {"a": 7.5, "b": 11.875, "h": 7.6, "ha": 5, "hb": 5.5},
 {"a": 5, "b": 9.6875, "h": 15, "ha": 0, "hb": 7.6},
 {"a": 1.875, "b": 7.34, "h": 25, "ha": 10, "hb": 15}
 ]},
 "layer": [
  {"mark": {"type": "rule", "color": "#707070", "strokeWidth": 0.8},
   "encoding": {"x": {"field": "a", "type": "quantitative", "scale": {"domain": [0.5, 14.5], "nice": false, "zero": false}, "axis": null}, "x2": {"field": "b"},
    "y": {"field": "h", "type": "quantitative", "scale": {"domain": [0, 25], "range": [0, -25], "nice": false, "zero": false}, "axis": null}}},
  {"mark": {"type": "rule", "color": "#707070", "strokeWidth": 0.8},
   "encoding": {"x": {"field": "a", "type": "quantitative", "scale": {"domain": [0.5, 14.5], "nice": false, "zero": false}, "axis": null},
    "y": {"field": "h", "type": "quantitative", "scale": {"domain": [0, 25], "range": [0, -25], "nice": false, "zero": false}, "axis": null}, "y2": {"field": "ha"}}},
  {"mark": {"type": "rule", "color": "#707070", "strokeWidth": 0.8},
   "encoding": {"x": {"field": "b", "type": "quantitative", "scale": {"domain": [0.5, 14.5], "nice": false, "zero": false}, "axis": null},
    "y": {"field": "h", "type": "quantitative", "scale": {"domain": [0, 25], "range": [0, -25], "nice": false, "zero": false}, "axis": null}, "y2": {"field": "hb"}}}
 ]},
{"data": {"values": [
 {"a": 3, "b": 4, "d": 1.5, "da": 0, "db": 0},
 {"a": 2, "b": 3.5, "d": 2.5, "da": 0, "db": 1.5},
 {"a": 6, "b": 7, "d": 1.5, "da": 0, "db": 0},
 {"a": 8, "b": 9, "d": 1.2, "da": 0, "db": 0},
 {"a": 6.5, "b": 8.5, "d": 2, "da": 1.5, "db": 1.2},
 {"a": 10, "b": 11, "d": 1.3, "da": 0, "db": 0},
 {"a": 10.5, "b": 12, "d": 1.8, "da": 1.3, "db": 0},
 {"a": 7.5, "b": 11.25, "d": 2.6, "da": 2, "db": 1.8},
 {"a": 13, "b": 14, "d": 1.2, "da": 0, "db": 0},
 {"a": 15, "b": 16, "d": 1.4, "da": 0, "db": 0},
 {"a": 13.5, "b": 15.5, "d": 2.0, "da": 1.2, "db": 1.4},
 {"a": 17, "b": 18, "d": 1.1, "da": 0, "db": 0},
 {"a": 17.5, "b": 19, "d": 1.7, "da": 1.1, "db": 0},
 {"a": 14.5, "b": 18.25, "d": 2.4, "da": 2.0, "db": 1.7},
 {"a": 9.375, "b": 16.375, "d": 3.2, "da": 2.6, "db": 2.4},
 {"a": 5, "b": 12.875, "d": 4.0, "da": 0, "db": 3.2},
 {"a": 20, "b": 21, "d": 1.8, "da": 0, "db": 0},
 {"a": 22, "b": 23, "d": 1.3, "da": 0, "db": 0},
 {"a": 20.5, "b": 22.5, "d": 2.6, "da": 1.8, "db": 1.3},
 {"a": 24, "b": 25, "d": 1.6, "da": 0, "db": 0},
 {"a": 24.5, "b": 26, "d": 2.2, "da": 1.6, "db": 0},
 {"a": 21.5, "b": 25.25, "d": 3.8, "da": 2.6, "db": 2.2},
 {"a": 8.9375, "b": 23.375, "d": 5.5, "da": 4.0, "db": 3.8},
 {"a": 2.75, "b": 16.156, "d": 6.5, "da": 2.5, "db": 5.5},
 {"a": 1, "b": 9.453, "d": 7.7, "da": 0, "db": 6.5},
 {"a": 27, "b": 28, "d": 1.5, "da": 0, "db": 0},
 {"a": 29, "b": 30, "d": 1.8, "da": 0, "db": 0},
 {"a": 27.5, "b": 29.5, "d": 3.0, "da": 1.5, "db": 1.8},
 {"a": 32, "b": 33, "d": 1.5, "da": 0, "db": 0},
 {"a": 34, "b": 35, "d": 1.2, "da": 0, "db": 0},
 {"a": 36, "b": 37, "d": 1.0, "da": 0, "db": 0},
 {"a": 38, "b": 39, "d": 1.3, "da": 0, "db": 0},
 {"a": 36.5, "b": 38.5, "d": 1.8, "da": 1.0, "db": 1.3},
 {"a": 34.5, "b": 37.5, "d": 2.3, "da": 1.2, "db": 1.8},
 {"a": 32.5, "b": 36, "d": 2.8, "da": 1.5, "db": 2.3},
 {"a": 31, "b": 34.25, "d": 4.0, "da": 0, "db": 2.8},
 {"a": 40, "b": 41, "d": 2.0, "da": 0, "db": 0},
 {"a": 42, "b": 43, "d": 1.4, "da": 0, "db": 0},
 {"a": 40.5, "b": 42.5, "d": 2.5, "da": 2.0, "db": 1.4},
 {"a": 45, "b": 46, "d": 0.8, "da": 0, "db": 0},
 {"a": 47, "b": 48, "d": 0.9, "da": 0, "db": 0},
 {"a": 45.5, "b": 47.5, "d": 1.3, "da": 0.8, "db": 0.9},
 {"a": 44, "b": 46.5, "d": 1.8, "da": 0, "db": 1.3},
 {"a": 41.5, "b": 45.25, "d": 3.2, "da": 2.5, "db": 1.8},
 {"a": 32.625, "b": 43.375, "d": 5.5, "da": 4.0, "db": 3.2},
 {"a": 28.5, "b": 38.0, "d": 7.0, "da": 3.0, "db": 5.5},
 {"a": 52, "b": 53, "d": 1.5, "da": 0, "db": 0},
 {"a": 51, "b": 52.5, "d": 3.0, "da": 0, "db": 1.5},
 {"a": 50, "b": 51.75, "d": 5.0, "da": 0, "db": 3.0},
 {"a": 49, "b": 50.875, "d": 9.0, "da": 0, "db": 5.0},
 {"a": 33.25, "b": 49.94, "d": 12.7, "da": 7.0, "db": 9.0},
 {"a": 5.227, "b": 41.6, "d": 26, "da": 7.7, "db": 12.7}
 ]},
 "layer": [
  {"mark": {"type": "rule", "color": "#707070", "strokeWidth": 0.8},
   "encoding": {"x": {"field": "d", "type": "quantitative", "scale": {"domain": [0, 26], "range": [0, -27.7], "nice": false, "zero": false}, "axis": null},
    "y": {"field": "a", "type": "quantitative", "scale": {"domain": [0.5, 53.5], "reverse": true, "nice": false, "zero": false}, "axis": null}, "y2": {"field": "b"}}},
  {"mark": {"type": "rule", "color": "#707070", "strokeWidth": 0.8},
   "encoding": {"x": {"field": "d", "type": "quantitative", "scale": {"domain": [0, 26], "range": [0, -27.7], "nice": false, "zero": false}, "axis": null}, "x2": {"field": "da"},
    "y": {"field": "a", "type": "quantitative", "scale": {"domain": [0.5, 53.5], "reverse": true, "nice": false, "zero": false}, "axis": null}}},
  {"mark": {"type": "rule", "color": "#707070", "strokeWidth": 0.8},
   "encoding": {"x": {"field": "d", "type": "quantitative", "scale": {"domain": [0, 26], "range": [0, -27.7], "nice": false, "zero": false}, "axis": null}, "x2": {"field": "db"},
    "y": {"field": "b", "type": "quantitative", "scale": {"domain": [0.5, 53.5], "reverse": true, "nice": false, "zero": false}, "axis": null}}},
  {"data": {"values": [{"t": "C", "d": 39.1, "r": -1.72}]},
   "mark": {"type": "text", "fontSize": 15, "fontWeight": "bold", "align": "center", "baseline": "middle", "color": "#000"},
   "encoding": {"x": {"field": "d", "type": "quantitative", "scale": {"domain": [0, 26], "range": [0, -27.7], "nice": false, "zero": false}, "axis": null},
    "y": {"field": "r", "type": "quantitative", "scale": {"domain": [0.5, 53.5], "reverse": true, "nice": false, "zero": false}, "axis": null}, "text": {"field": "t"}}}
 ]},
{"layer": [
  {"data": {"values": [{"s": 0.12, "e": 4.81, "r": 60.66}]},
   "mark": {"type": "rule", "color": "#b0504b", "strokeWidth": 2.5},
   "encoding": {"x": {"field": "s", "type": "quantitative", "scale": {"domain": [0.5, 14.5], "nice": false, "zero": false}, "axis": null}, "x2": {"field": "e"},
    "y": {"field": "r", "type": "quantitative", "scale": {"domain": [0.5, 53.5], "reverse": true, "nice": false, "zero": false}, "axis": null}}},
  {"data": {"values": [{"s": 5.02, "e": 14.4, "r": 60.66}]},
   "mark": {"type": "rule", "color": "#9cc257", "strokeWidth": 2.5},
   "encoding": {"x": {"field": "s", "type": "quantitative", "scale": {"domain": [0.5, 14.5], "nice": false, "zero": false}, "axis": null}, "x2": {"field": "e"},
    "y": {"field": "r", "type": "quantitative", "scale": {"domain": [0.5, 53.5], "reverse": true, "nice": false, "zero": false}, "axis": null}}},
  {"data": {"values": [{"t": "Day 10", "x": 2.47, "r": 62.8}, {"t": "CD144ⁿᵉᵍ", "x": 2.47, "r": 65.0}, {"t": "Day 6-10", "x": 9.71, "r": 62.8}, {"t": "CD144⁺", "x": 9.71, "r": 65.0}]},
   "mark": {"type": "text", "fontSize": 11.5, "align": "center", "baseline": "middle", "color": "#1a1a1a"},
   "encoding": {"x": {"field": "x", "type": "quantitative", "scale": {"domain": [0.5, 14.5], "nice": false, "zero": false}, "axis": null},
    "y": {"field": "r", "type": "quantitative", "scale": {"domain": [0.5, 53.5], "reverse": true, "nice": false, "zero": false}, "axis": null}, "text": {"field": "t"}}}
 ]}
]
}
], "spacing": -18.3, "resolve": {"scale": {"fill": "independent", "stroke": "independent"}, "legend": {"fill": "independent", "stroke": "independent"}}},
{"vconcat": [
{
"width": 204, "height": 183,
"view": {"stroke": "#666666", "strokeWidth": 0.8},
"layer": [
{"data": {"values": [
 {"pc1": 8.9, "pc2": 84.6, "grp": "D8 with\u00a0\u00a0\u00a0CK CD31⁺ CD144⁺"},
 {"pc1": 18.4, "pc2": 70.3, "grp": "D8 no\u00a0\u00a0\u00a0\u00a0\u00a0CK CD31⁺ CD144⁺"},
 {"pc1": 27.5, "pc2": 20.5, "grp": "D10 with\u00a0CK CD31⁺ CD144⁺"},
 {"pc1": 33.5, "pc2": 21.5, "grp": "D10 with\u00a0CK CD31⁺ CD144⁺"},
 {"pc1": 39.5, "pc2": 20.5, "grp": "D6 CD31⁺ CD144⁺"},
 {"pc1": 45.8, "pc2": 27.2, "grp": "D10 no\u00a0\u00a0\u00a0CK CD31⁺ CD144⁺"},
 {"pc1": 50.7, "pc2": 2.0, "grp": "D10 no\u00a0\u00a0\u00a0CK CD31⁺ CD144⁺"},
 {"pc1": 61.0, "pc2": -26.6, "grp": "D8 with\u00a0\u00a0\u00a0CK CD31⁺ CD144⁺"},
 {"pc1": 89.4, "pc2": -69.7, "grp": "D8 no\u00a0\u00a0\u00a0\u00a0\u00a0CK CD31⁺ CD144⁺"},
 {"pc1": 63.7, "pc2": -91.8, "grp": "D6 CD31⁺ CD144⁺"},
 {"pc1": -67.9, "pc2": 1.5, "grp": "D10 no\u00a0\u00a0\u00a0CK CD31⁺ CD144⁻"},
 {"pc1": -147.4, "pc2": -18.0, "grp": "D10 with\u00a0CK CD31⁺ CD144⁻"},
 {"pc1": -118.2, "pc2": -21.5, "grp": "D10 with\u00a0CK CD31⁺ CD144⁻"},
 {"pc1": -98.9, "pc2": -29.7, "grp": "D10 no\u00a0\u00a0\u00a0CK CD31⁺ CD144⁻"}
 ]},
 "mark": {"type": "point", "filled": true, "size": 42, "opacity": 1},
 "encoding": {
  "x": {"field": "pc1", "type": "quantitative", "scale": {"domain": [-169.5, 105.5], "nice": false, "zero": false},
   "axis": {"values": [-150, -100, -50, 0, 50, 100], "labelExpr": "datum.value % 100 === 0 ? datum.label : ''", "labelFontSize": 3.6, "labelColor": "#555", "tickSize": 2, "tickColor": {"condition": {"test": "datum.value % 100 === 0", "value": "#666"}, "value": "transparent"}, "grid": true, "gridColor": {"condition": {"test": "datum.value % 100 === 0", "value": "#e3e3e3"}, "value": "#f1f1f1"}, "domain": false, "title": "PC1(43,58%)", "titleFontSize": 12, "titleFontWeight": "normal", "titleColor": "#1a1a1a", "titlePadding": 5, "labelPadding": 1}},
  "y": {"field": "pc2", "type": "quantitative", "scale": {"domain": [-170.8, 110.8], "nice": false, "zero": false},
   "axis": {"values": [-150, -100, -50, 0, 50, 100], "labelExpr": "datum.value % 100 === 0 ? datum.label : ''", "labelFontSize": 3.6, "labelColor": "#555", "tickSize": 2, "tickColor": {"condition": {"test": "datum.value % 100 === 0", "value": "#666"}, "value": "transparent"}, "grid": true, "gridColor": {"condition": {"test": "datum.value % 100 === 0", "value": "#e3e3e3"}, "value": "#f1f1f1"}, "domain": false, "title": "PC2(17,19%)", "titleFontSize": 12, "titleFontWeight": "normal", "titleColor": "#1a1a1a", "titlePadding": 6, "labelPadding": 1}},
  "color": {"field": "grp", "type": "nominal", "scale": {"domain": ["D6 CD31⁺ CD144⁺", "D8 no\u00a0\u00a0\u00a0\u00a0\u00a0CK CD31⁺ CD144⁺", "D8 with\u00a0\u00a0\u00a0CK CD31⁺ CD144⁺", "D10 no\u00a0\u00a0\u00a0CK CD31⁺ CD144⁺", "D10 with\u00a0CK CD31⁺ CD144⁺", "D10 no\u00a0\u00a0\u00a0CK CD31⁺ CD144⁻", "D10 with\u00a0CK CD31⁺ CD144⁻"], "range": ["#7550a0", "#a6c6e3", "#a6c6e3", "#9fd180", "#9fd180", "#e37f5d", "#e37f5d"]},
   "legend": {"title": null, "orient": "none", "legendX": 211, "legendY": 56, "symbolSize": 100, "labelFontSize": 7.5, "rowPadding": 3.5, "labelOffset": 3, "symbolStrokeWidth": 0, "labelColor": "#333"}},
  "shape": {"field": "grp", "type": "nominal", "scale": {"domain": ["D6 CD31⁺ CD144⁺", "D8 no\u00a0\u00a0\u00a0\u00a0\u00a0CK CD31⁺ CD144⁺", "D8 with\u00a0\u00a0\u00a0CK CD31⁺ CD144⁺", "D10 no\u00a0\u00a0\u00a0CK CD31⁺ CD144⁺", "D10 with\u00a0CK CD31⁺ CD144⁺", "D10 no\u00a0\u00a0\u00a0CK CD31⁺ CD144⁻", "D10 with\u00a0CK CD31⁺ CD144⁻"], "range": ["square", "circle", "triangle-up", "circle", "triangle-up", "circle", "triangle-up"]},
   "legend": {"title": null, "orient": "none", "legendX": 211, "legendY": 56, "symbolSize": 100, "labelFontSize": 7.5, "rowPadding": 3.5, "labelOffset": 3, "symbolStrokeWidth": 0, "labelColor": "#333"}}
 }},
{"data": {"values": [{"x": -40.4, "y": 9.2, "o": 1}, {"x": -60.7, "y": 23.5, "o": 2}, {"x": -96.7, "y": 22, "o": 3}, {"x": -141.5, "y": 6.6, "o": 4}, {"x": -168, "y": -21.5, "o": 5}, {"x": -155, "y": -38.5, "o": 6}, {"x": -114.6, "y": -40.5, "o": 7}, {"x": -60.7, "y": -18.9, "o": 8}]},
 "mark": {"type": "line", "interpolate": "cardinal-closed", "color": "#9a2e2e", "strokeWidth": 3},
 "encoding": {"x": {"field": "x", "type": "quantitative", "scale": {"domain": [-169.5, 105.5], "nice": false, "zero": false}}, "y": {"field": "y", "type": "quantitative", "scale": {"domain": [-170.8, 110.8], "nice": false, "zero": false}}, "order": {"field": "o"}}},
{"data": {"values": [{"x": 11.2, "y": 105.1, "o": 1}, {"x": 60.7, "y": 88.8, "o": 2}, {"x": 96.5, "y": 22, "o": 3}, {"x": 109.2, "y": -65.1, "o": 4}, {"x": 83, "y": -108.8, "o": 5}, {"x": 38.2, "y": -75.4, "o": 6}, {"x": -15.8, "y": 22, "o": 7}, {"x": -18.1, "y": 83.5, "o": 8}]},
 "mark": {"type": "line", "interpolate": "cardinal-closed", "color": "#8db43c", "strokeWidth": 3},
 "encoding": {"x": {"field": "x", "type": "quantitative", "scale": {"domain": [-169.5, 105.5], "nice": false, "zero": false}}, "y": {"field": "y", "type": "quantitative", "scale": {"domain": [-170.8, 110.8], "nice": false, "zero": false}}, "order": {"field": "o"}}},
{"data": {"values": [{"t": "CD31⁺", "x": -143.8, "y": 60}, {"t": "CD144ⁿᵉᵍ", "x": -143.8, "y": 39.2}, {"t": "CD31⁺", "x": -22.5, "y": -108.2}, {"t": "CD144⁺", "x": -22.5, "y": -129.2}]},
 "mark": {"type": "text", "fontSize": 16, "fontWeight": "bold", "align": "left", "baseline": "middle", "color": "#111"},
 "encoding": {"x": {"field": "x", "type": "quantitative", "scale": {"domain": [-169.5, 105.5], "nice": false, "zero": false}}, "y": {"field": "y", "type": "quantitative", "scale": {"domain": [-170.8, 110.8], "nice": false, "zero": false}}, "text": {"field": "t"}}},
{"data": {"values": [{"t": "B", "x": -204.5, "y": 114.3}, {"t": "D", "x": -277, "y": -226.2}]},
 "mark": {"type": "text", "fontSize": 14, "fontWeight": "bold", "align": "left", "baseline": "middle", "color": "#000"},
 "encoding": {"x": {"field": "x", "type": "quantitative", "scale": {"domain": [-169.5, 105.5], "nice": false, "zero": false}}, "y": {"field": "y", "type": "quantitative", "scale": {"domain": [-170.8, 110.8], "nice": false, "zero": false}}, "text": {"field": "t"}}}
]
},
{"width": 333.2, "height": 124.5,
 "title": {"text": "GO term\u00a0\u00a0\u00a0\u00a0\u00a0\u00a0\u00a0\u00a0\u00a0\u00a0\u00a0\u00a0\u00a0\u00a0\u00a0\u00a0Upregulated at day 10 vs day 6", "anchor": "start", "frame": "group", "dx": -20, "fontSize": 12, "fontWeight": "bold", "offset": 8, "color": "#1a1a1a"},
 "data": {"values": [{"term": "Angiogenesis", "p": 6.05}, {"term": "Rho protein signal transduction", "p": 1.92}, {"term": "Positive regulation of fibroblast proliferation", "p": 1.85}, {"term": "Pancreatic juice secretion", "p": 1.65}, {"term": "Regulation of cell migration", "p": 1.6}]},
 "mark": {"type": "bar", "color": "#d9836a"},
 "encoding": {
  "y": {"field": "term", "type": "nominal", "sort": null, "scale": {"paddingInner": 0.1, "paddingOuter": 0.15},
   "axis": {"offset": -65.85, "title": null, "labelFontSize": 11.5, "labelColor": "#1a1a1a", "tickColor": "#888", "tickSize": 3, "domain": false, "labelPadding": 4, "labelLimit": 400}},
  "x": {"field": "p", "type": "quantitative", "scale": {"domain": [-3.21, 10.5], "nice": false, "zero": false},
   "axis": {"values": [0, 2.5, 5, 7.5, 10], "format": ".1f", "title": "-log₁₀ p-value", "titleX": 188.9, "labelFontSize": 5, "titleFontSize": 5.5, "ticks": false, "domain": false, "grid": false, "labelColor": "#555", "titleColor": "#333", "labelPadding": 2, "titlePadding": 2, "titleFontWeight": "normal"}}
 }},
{"width": 312.0, "height": 123.4,
 "title": {"text": "Downregulated at day 10 vs day 6", "anchor": "start", "frame": "group", "dx": 78, "fontSize": 12, "fontWeight": "bold", "offset": 9, "color": "#1a1a1a"},
 "data": {"values": [{"term": "Mitotic nuclear division", "p": 6.06}, {"term": "Cell division", "p": 4.73}, {"term": "Metaphase plate congression", "p": 4.5}, {"term": "Microtubule-based movement", "p": 4.15}, {"term": "Sister Chromatid cohesion", "p": 3.63}]},
 "mark": {"type": "bar", "color": "#a3bfda"},
 "encoding": {
  "y": {"field": "term", "type": "nominal", "sort": null, "scale": {"paddingInner": 0.1, "paddingOuter": 0.15},
   "axis": {"offset": -63.4, "title": null, "labelFontSize": 11.5, "labelColor": "#1a1a1a", "tickColor": "#888", "tickSize": 3, "domain": false, "labelPadding": 4, "labelLimit": 400}},
  "x": {"field": "p", "type": "quantitative", "scale": {"domain": [-3.305, 10.5], "nice": false, "zero": false},
   "axis": {"values": [0, 2.5, 5, 7.5, 10], "format": ".1f", "title": "-log₁₀ p-value", "titleX": 187.3, "labelFontSize": 5, "titleFontSize": 5.5, "ticks": false, "domain": false, "grid": false, "labelColor": "#555", "titleColor": "#333", "labelPadding": 2, "titlePadding": 2, "titleFontWeight": "normal"}}
 }}
], "spacing": 3.3, "resolve": {"scale": {"color": "independent", "shape": "independent"}, "legend": {"color": "independent", "shape": "independent"}}}
]
}
